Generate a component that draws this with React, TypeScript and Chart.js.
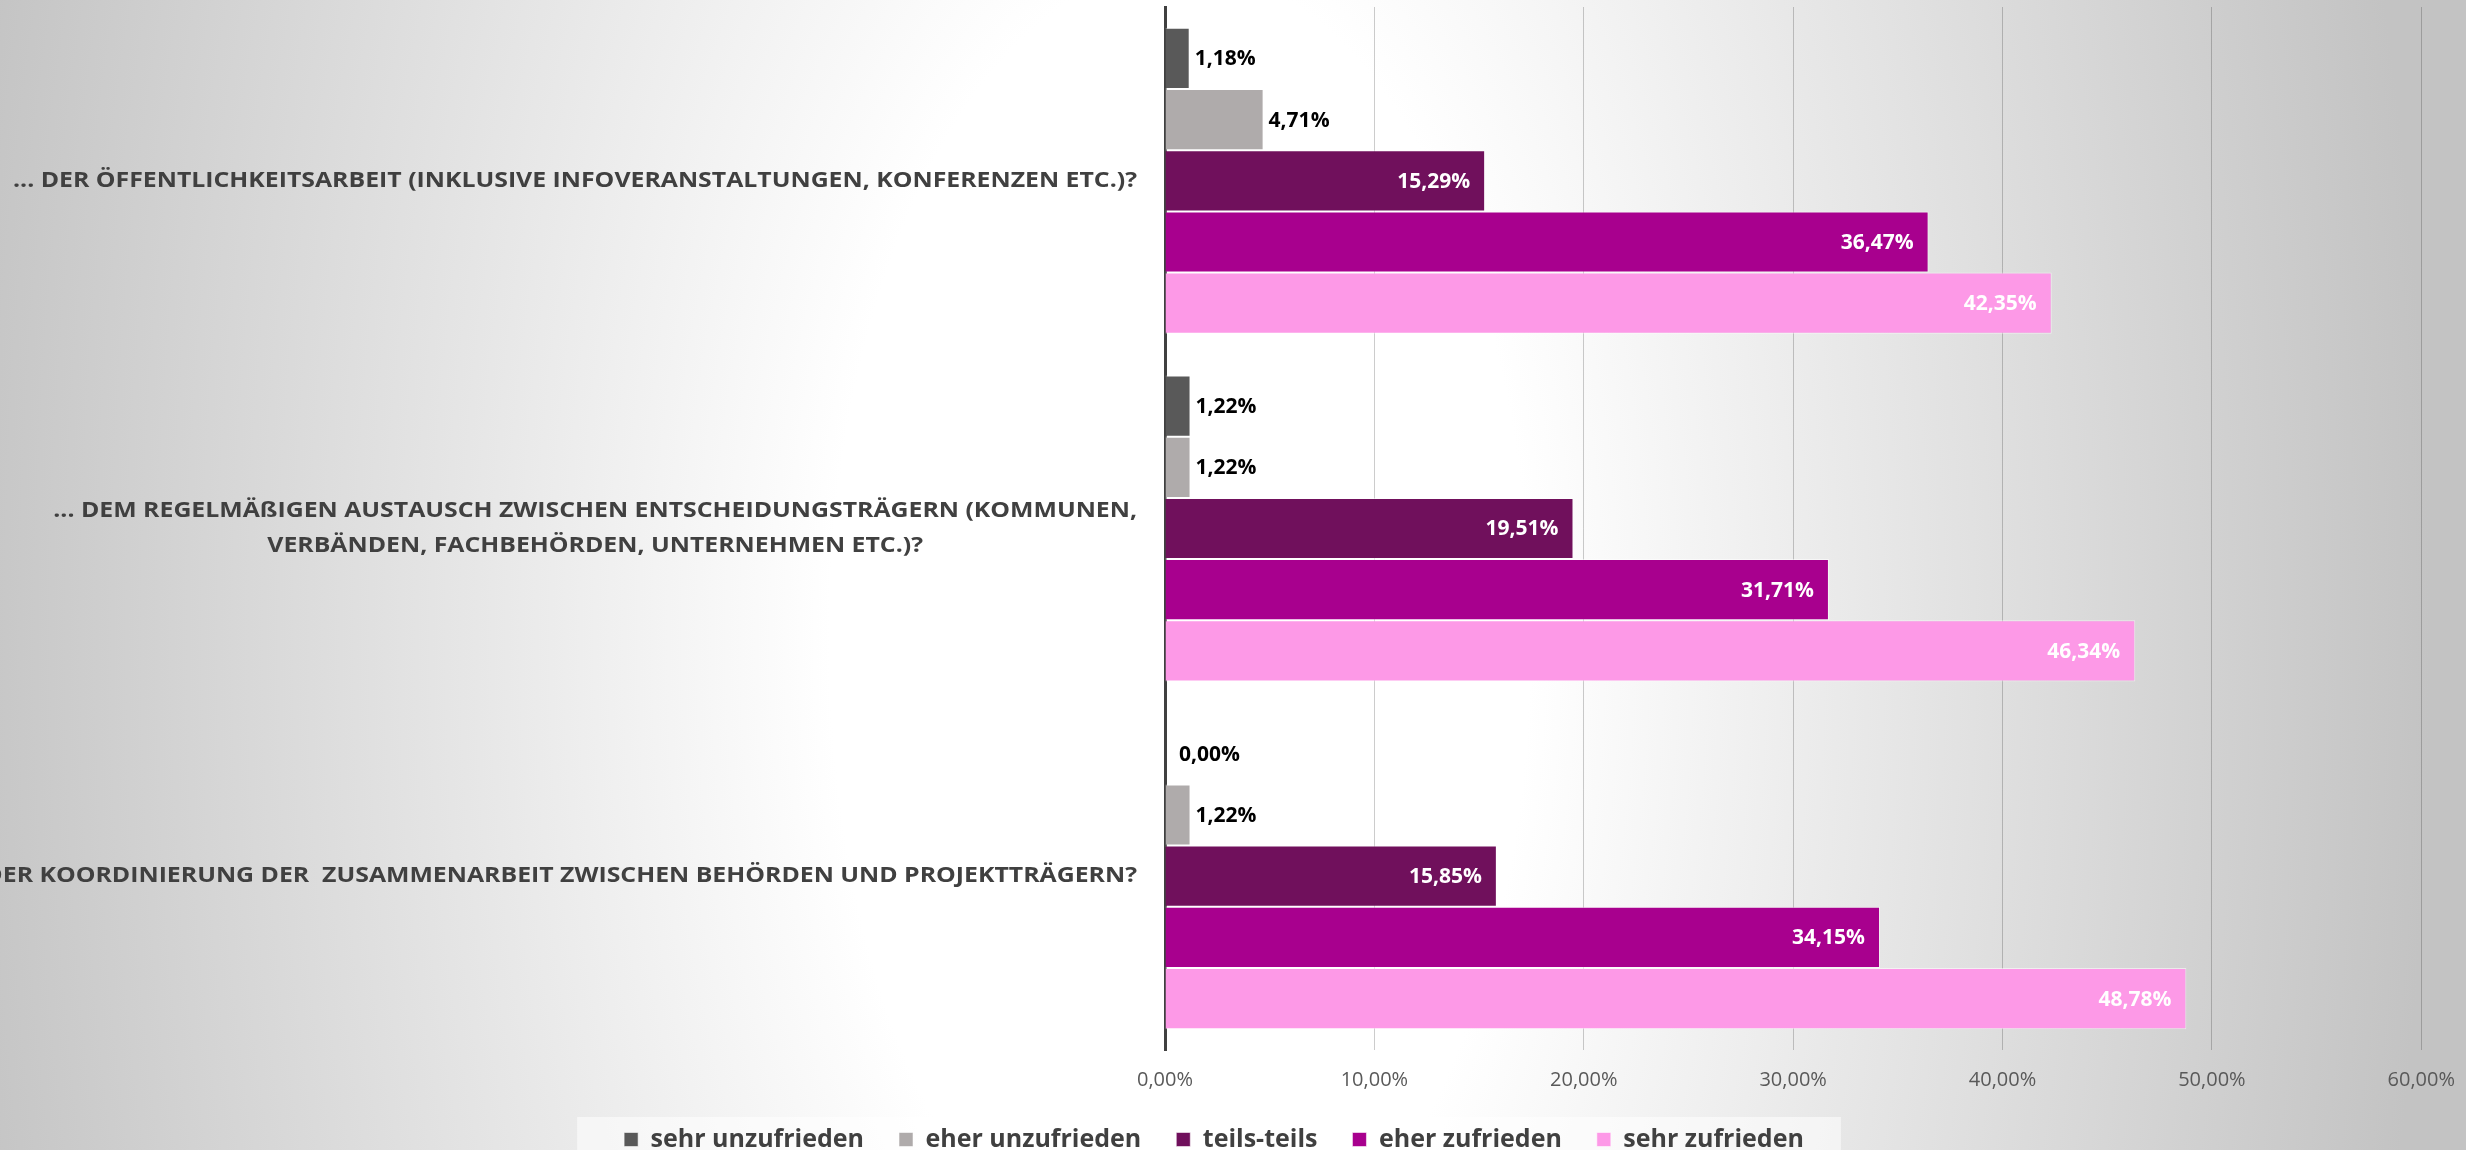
import React, { useEffect, useRef } from "react";
import { Chart, registerables } from "chart.js";

Chart.register(...registerables);

// ---- data ----
const categories: string[][] = [
  ["... DER ÖFFENTLICHKEITSARBEIT (INKLUSIVE INFOVERANSTALTUNGEN, KONFERENZEN ETC.)?"],
  [
    "... DEM REGELMÄßIGEN AUSTAUSCH ZWISCHEN ENTSCHEIDUNGSTRÄGERN (KOMMUNEN,",
    "VERBÄNDEN, FACHBEHÖRDEN, UNTERNEHMEN ETC.)?",
  ],
  ["... DER KOORDINIERUNG DER  ZUSAMMENARBEIT ZWISCHEN BEHÖRDEN UND PROJEKTTRÄGERN?"],
];
const seriesNames = [
  "sehr unzufrieden",
  "eher unzufrieden",
  "teils-teils",
  "eher zufrieden",
  "sehr zufrieden",
];
const sehrUnzufrieden = [1.18, 1.22, 0.0];
const eherUnzufrieden = [4.71, 1.22, 1.22];
const teilsTeils = [15.29, 19.51, 15.85];
const eherZufrieden = [36.47, 31.71, 34.15];
const sehrZufrieden = [42.35, 46.34, 48.78];
const xTickValues = [0, 10, 20, 30, 40, 50, 60];

const seriesValues = [sehrUnzufrieden, eherUnzufrieden, teilsTeils, eherZufrieden, sehrZufrieden];
const seriesColors = ["#595959", "#afabab", "#70105c", "#a8008e", "#fd99e7"];
const labelInside = [false, false, true, true, true];

const FONT = '"Open Sans", "Liberation Sans", sans-serif';
const W = 2473;
const H = 1162;

const fmt = (v: number) => v.toFixed(2).replace(".", ",") + "%";

const backgroundPlugin = {
  id: "bgPlugin",
  beforeDraw(chart: any) {
    const { ctx } = chart;
    const cw = chart.width;
    const ch = chart.height;
    ctx.save();
    const cx = 1180;
    const cy = 640;
    const RX = 1250;
    const RY = 2400;
    ctx.translate(cx, cy);
    ctx.scale(1, RY / RX);
    const g = ctx.createRadialGradient(0, 0, 0, 0, 0, RX);
    g.addColorStop(0, "#ffffff");
    g.addColorStop(0.28, "#ffffff");
    g.addColorStop(0.55, "#e8e8e8");
    g.addColorStop(1, "#c3c3c3");
    ctx.fillStyle = g;
    ctx.fillRect(-cx, -cy * (RX / RY), cw, ch * (RX / RY));
    ctx.restore();

    // legend backdrop
    const lg = chart.legend;
    if (lg && lg.legendHitBoxes && lg.legendHitBoxes.length) {
      const hb = lg.legendHitBoxes;
      const first = hb[0];
      const last = hb[hb.length - 1];
      const left = first.left - 47;
      const right = last.left + last.width + 37;
      const top = first.top - 10;
      ctx.save();
      ctx.fillStyle = "rgba(255,255,255,0.55)";
      ctx.fillRect(left, top, right - left, ch - top);
      ctx.restore();
    }
  },
};

const labelPlugin = {
  id: "labelPlugin",
  afterDraw(chart: any) {
    const { ctx } = chart;
    const yScale = chart.scales.y;
    const area = chart.chartArea;

    // category labels: right-aligned block, lines centered within block
    ctx.save();
    ctx.font = `bold 21px ${FONT}`;
    ctx.fillStyle = "#404040";
    ctx.textBaseline = "middle";
    ctx.textAlign = "center";
    const refW = ctx.measureText(categories[0][0]).width;
    const sx = 1124 / refW;
    const rightEdge = area.left - 28;
    const lineGap = 35;
    categories.forEach((lines, i) => {
      const cy = yScale.getPixelForValue(i);
      const blockW = Math.max(...lines.map((l) => ctx.measureText(l).width)) * sx;
      const cx = rightEdge - blockW / 2;
      lines.forEach((line, j) => {
        const y = cy + (j - (lines.length - 1) / 2) * lineGap;
        ctx.save();
        ctx.translate(cx, y);
        ctx.scale(sx, 1);
        ctx.fillText(line, 0, 0);
        ctx.restore();
      });
    });
    ctx.restore();

    // data labels
    ctx.save();
    ctx.font = `bold 21px ${FONT}`;
    ctx.textBaseline = "middle";
    chart.data.datasets.forEach((ds: any, di: number) => {
      const meta = chart.getDatasetMeta(di);
      meta.data.forEach((el: any, i: number) => {
        const v = ds.data[i];
        const text = fmt(v);
        if (labelInside[di]) {
          ctx.textAlign = "right";
          ctx.fillStyle = "#ffffff";
          ctx.fillText(text, el.x - 15, el.y + 1);
        } else {
          ctx.textAlign = "left";
          ctx.fillStyle = "#000000";
          ctx.fillText(text, el.x + (v === 0 ? 14 : 5), el.y + 1);
        }
      });
    });
    ctx.restore();
  },
};

export default function App() {
  const canvasRef = useRef<HTMLCanvasElement>(null);

  useEffect(() => {
    const canvas = canvasRef.current;
    if (!canvas) return;
    const chart = new Chart(canvas, {
      type: "bar",
      data: {
        labels: categories.map((c) => c.join(" ")),
        datasets: seriesNames.map((name, i) => ({
          label: name,
          data: seriesValues[i],
          backgroundColor: seriesColors[i],
          borderColor: "rgba(255,255,255,0.55)",
          borderWidth: 1,
          categoryPercentage: 0.88,
          barPercentage: 1.0,
        })),
      },
      options: {
        indexAxis: "y",
        animation: false,
        responsive: true,
        maintainAspectRatio: false,
        layout: { padding: { top: 7, right: 45, bottom: 0, left: 0 } },
        scales: {
          x: {
            type: "linear",
            position: "bottom",
            min: 0,
            max: 60,
            afterBuildTicks: (scale: any) => {
              scale.ticks = xTickValues.map((v) => ({ value: v }));
            },
            ticks: {
              padding: 18,
              color: "#595959",
              font: { family: FONT, size: 20 },
              callback: (v: any) => fmt(Number(v)),
            },
            grid: {
              color: "rgba(0,0,0,0.2)",
              lineWidth: 1,
              drawTicks: false,
            },
            border: { display: false },
            afterFit: (scale: any) => {
              scale.height = 42;
            },
          },
          y: {
            type: "category",
            z: 1,
            ticks: { display: false },
            grid: { display: false },
            border: { display: true, color: "#404040", width: 3 },
            afterFit: (scale: any) => {
              scale.width = 1165;
            },
          },
        },
        plugins: {
          legend: {
            position: "bottom",
            labels: {
              boxWidth: 14,
              boxHeight: 14,
              padding: 35,
              color: "#404040",
              font: { family: FONT, size: 25, weight: "bold" },
            },
          },
          tooltip: { enabled: false },
        },
      },
      plugins: [backgroundPlugin, labelPlugin],
    } as any);
    return () => chart.destroy();
  }, []);

  return (
    <div style={{ position: "fixed", left: 0, top: 0, width: W, height: H }}>
      <canvas ref={canvasRef} />
    </div>
  );
}
